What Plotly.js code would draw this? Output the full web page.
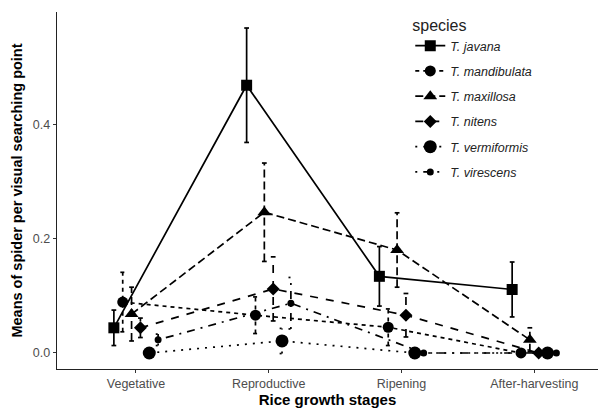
<!DOCTYPE html>
<html>
<head>
<meta charset="utf-8">
<script src="https://cdn.plot.ly/plotly-3.0.1.min.js"></script>
<style>html,body{margin:0;padding:0;background:#fff;}#chart{width:602px;height:409px;}</style>
</head>
<body>
<div id="chart"></div>
<script>
// ---- data ----
const categories = ["Vegetative", "Reproductive", "Ripening", "After-harvesting"];
const species = ["T. javana", "T. mandibulata", "T. maxillosa", "T. nitens", "T. vermiformis", "T. virescens"];

const javana       = [0.044, 0.468, 0.134, 0.111];
const javanaSE     = [0.031, 0.100, 0.052, 0.048];
const mandibulata  = [0.089, 0.066, 0.045, 0.000];
const mandibulataSE= [0.052, 0.032, 0.032, 0.000];
const maxillosa    = [0.068, 0.246, 0.180, 0.023];
const maxillosaSE  = [0.047, 0.086, 0.065, 0.021];
const nitens       = [0.044, 0.112, 0.066, 0.000];
const nitensSE     = [0.017, 0.056, 0.038, 0.000];
const vermiformis  = [0.000, 0.021, 0.000, 0.000];
const vermiformisSE= [0.000, 0.022, 0.000, 0.000];
const virescens    = [0.023, 0.087, 0.000, 0.000];
const virescensSE  = [0.010, 0.045, 0.000, 0.000];

const means = [javana, mandibulata, maxillosa, nitens, vermiformis, virescens];
const ses   = [javanaSE, mandibulataSE, maxillosaSE, nitensSE, vermiformisSE, virescensSE];

// ---- styles ----
const symbols = ["square", "circle", "triangle-up", "diamond", "circle", "circle"];
const sizes   = [11, 11, 12, 10, 13, 7];
const dashes  = ["solid", "4px,4px", "8px,4px", "8px,8px", "2px,6px", "2px,6px,8px,6px"];
const lw = 1.7;
const dodgeWidth = 0.4;
const capHalf = 0.018;

const n = species.length;
const traces = [];
const legendTraces = [];
for (let s = 0; s < n; s++) {
  const off = (s - (n - 1) / 2) * (dodgeWidth / n);
  const xs = categories.map((c, i) => i + 1 + off);
  const ex = [], ey = [];
  for (let i = 0; i < categories.length; i++) {
    const m = means[s][i], e = ses[s][i];
    if (e <= 0) continue;
    ex.push(xs[i], xs[i], null);
    ey.push(m - e, m + e, null);
    ex.push(xs[i] - capHalf, xs[i] + capHalf, null);
    ey.push(m + e, m + e, null);
    ex.push(xs[i] - capHalf, xs[i] + capHalf, null);
    ey.push(m - e, m - e, null);
  }
  traces.push({
    x: ex, y: ey, mode: "lines", type: "scatter", showlegend: false, hoverinfo: "skip",
    line: {color: "#000", width: lw, dash: dashes[s]}
  });
  legendTraces.push({
    x: xs, y: means[s], mode: "lines+markers", type: "scatter",
    name: "<i>" + species[s] + "</i>", legendgroup: "g" + s,
    line: {color: "#000", width: lw, dash: dashes[s]},
    marker: {symbol: symbols[s], size: sizes[s], color: "#000"}
  });
}

const layout = {
  width: 602, height: 409,
  margin: {l: 57, r: 4, t: 12, b: 40},
  paper_bgcolor: "#fff", plot_bgcolor: "#fff",
  font: {family: "Liberation Sans, Arial, sans-serif", color: "#000"},
  showlegend: true,
  xaxis: {
    range: [0.405, 4.48], tickmode: "array", tickvals: [1, 2, 3, 4], ticktext: categories,
    showline: true, linecolor: "#222", linewidth: 1.3, mirror: false,
    ticks: "outside", ticklen: 3, tickwidth: 1, tickcolor: "#333",
    tickfont: {size: 12.5, color: "#4d4d4d"},
    showgrid: false, zeroline: false,
    title: {text: "<b>Rice growth stages</b>", font: {size: 15, color: "#000"}, standoff: 2}
  },
  yaxis: {
    range: [-0.028, 0.596], tickmode: "array", tickvals: [0, 0.2, 0.4], ticktext: ["0.0", "0.2", "0.4"],
    showline: true, linecolor: "#222", linewidth: 1.3,
    ticks: "outside", ticklen: 3, tickwidth: 1, tickcolor: "#333",
    tickfont: {size: 12.5, color: "#4d4d4d"},
    showgrid: false, zeroline: false,
    title: {text: "<b>Means of spider per visual searching point</b>", font: {size: 14.5, color: "#000"}, standoff: 6}
  },
  legend: {
    x: 0.653, y: 1.005, xanchor: "left", yanchor: "top",
    bgcolor: "rgba(0,0,0,0)",
    title: {text: "species", font: {size: 16, color: "#222"}},
    font: {size: 12.5, color: "#222"},
    itemwidth: 30, tracegroupgap: 6
  }
};

Plotly.newPlot("chart", traces.concat(legendTraces), layout, {displayModeBar: false, staticPlot: true});
</script>
</body>
</html>
